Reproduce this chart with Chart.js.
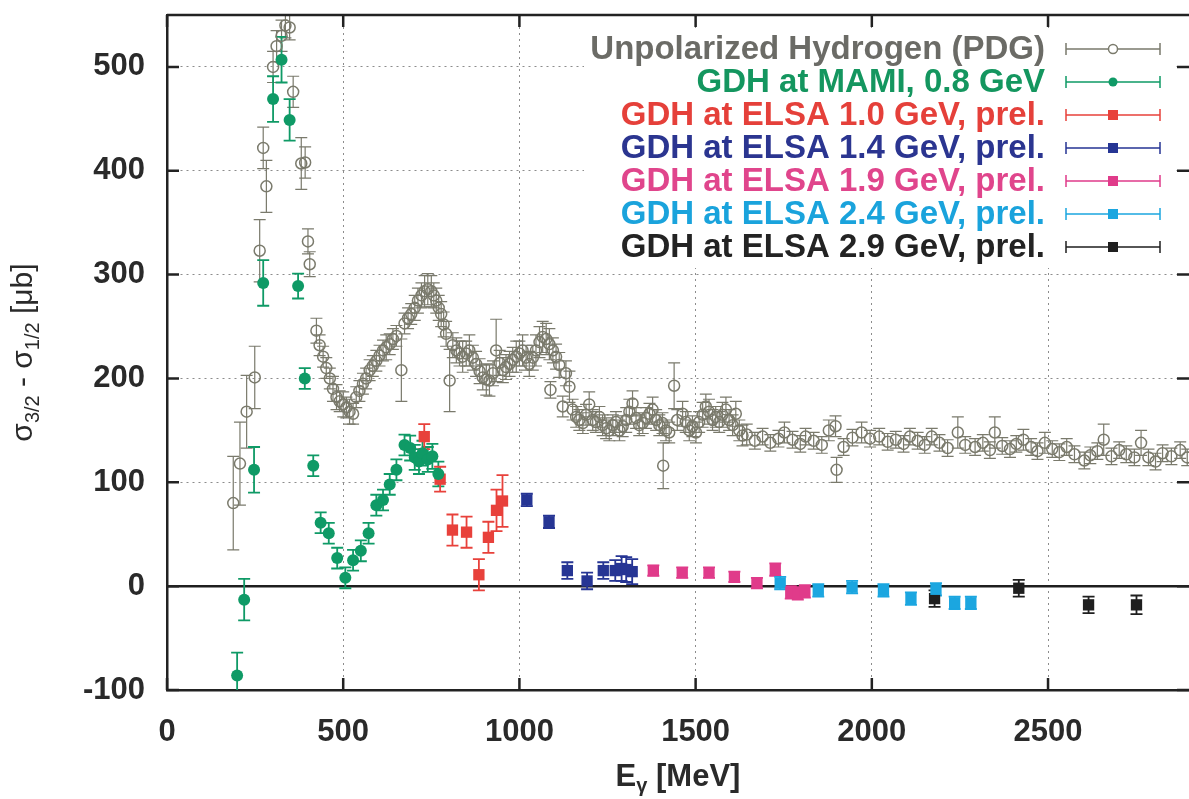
<!DOCTYPE html>
<html>
<head>
<meta charset="utf-8">
<script src="https://cdn.jsdelivr.net/npm/chart.js@4"></script>
<style>
  body { margin: 0; background: #fff; }
  canvas { display: block; }
</style>
</head>
<body>
<canvas id="gdhChart" width="1189" height="799"></canvas>
<script>
const xTickValues = [0, 500, 1000, 1500, 2000, 2500];
const yTickValues = [-100, 0, 100, 200, 300, 400, 500];

const seriesNames = [
  'Unpolarized Hydrogen (PDG)',
  'GDH at MAMI, 0.8 GeV',
  'GDH at ELSA 1.0 GeV, prel.',
  'GDH at ELSA 1.4 GeV, prel.',
  'GDH at ELSA 1.9 GeV, prel.',
  'GDH at ELSA 2.4 GeV, prel.',
  'GDH at ELSA 2.9 GeV, prel.'
];

// total photoabsorption, PDG compilation
const pdgEnergy = [
  188, 207, 226, 249, 263, 273, 282, 301, 311, 325,
  336, 348, 358, 381, 392, 400, 405, 424, 433, 443,
  452, 462, 471, 481, 490, 500, 509, 518, 528, 537,
  546, 556, 565, 575, 584, 594, 603, 613, 622, 632,
  641, 651, 665, 674, 684, 693, 703, 712, 722, 731,
  740, 750, 757, 764, 771, 778, 785, 792, 802, 811,
  821, 830, 839, 849, 858, 868, 877, 887, 896, 906,
  915, 925, 934, 944, 953, 962, 972, 981, 991, 1000,
  1009, 1019, 1028, 1038, 1047, 1057, 1066, 1076, 1085, 1095,
  1104, 1113, 1132, 1088, 1123, 1142, 1151, 1161, 1170, 1180,
  1189, 1198, 1208, 1217, 1227, 1236, 1246, 1255, 1265, 1274,
  1284, 1293, 1303, 1312, 1321, 1331, 1340, 1350, 1359, 1369,
  1378, 1388, 1397, 1406, 1408, 1416, 1425, 1439, 1448, 1463,
  1472, 1482, 1491, 1501, 1510, 1520, 1529, 1538, 1548, 1557,
  1567, 1576, 1586, 1595, 1605, 1614, 1624, 1633, 1645, 1668,
  1690, 1712, 1735, 1752, 1775, 1797, 1812, 1835, 1858, 1878,
  1897, 1900, 1920, 1945, 1971, 1995, 2021, 2045, 2068, 2090,
  2108, 2130, 2150, 2170, 2192, 2215, 2244, 2265, 2293, 2315,
  2335, 2349, 2370, 2392, 2410, 2430, 2452, 2470, 2491, 2512,
  2532, 2553, 2575, 2603, 2620, 2640, 2658, 2680, 2702, 2722,
  2745, 2764, 2785, 2805, 2825, 2850, 2875, 2895
];
const pdgSigma = [
  80, 118, 168, 201, 323, 422, 385, 500, 520, 530,
  540, 538, 476, 407, 408, 332, 310, 246, 232, 221,
  210, 200, 190, 182, 178, 175, 172, 168, 166, 182,
  188, 195, 200, 208, 212, 217, 222, 227, 230, 233,
  238, 241, 208, 253, 258, 262, 268, 275, 280, 284,
  286, 284, 280, 275, 268, 262, 252, 243, 198, 232,
  227, 224, 221, 224, 227, 220, 214, 207, 201, 199,
  198, 205, 227, 215, 208, 211, 214, 218, 221, 224,
  227, 220, 214, 220, 227, 235, 240, 238, 233, 227,
  221, 213, 205, 189, 173, 192, 170, 163, 160, 157,
  165, 175, 160, 158, 163, 155, 152, 150, 155, 158,
  150, 154, 160, 168, 176, 162, 155, 157, 162, 166,
  170, 160, 155, 157, 116, 150, 148, 193, 160, 166,
  158, 150, 154, 148, 158, 165, 173, 168, 160, 163,
  158, 165, 170, 160, 155, 166, 150, 145, 146, 140,
  144, 138, 142, 148, 141, 137, 144, 140, 136, 150,
  154, 112, 134, 143, 148, 142, 144, 139, 141, 137,
  144, 140, 136, 144, 138, 133, 148, 136, 134, 138,
  131, 148, 135, 132, 137, 141, 134, 130, 138, 132,
  129, 134, 127, 121, 126, 130, 141, 125, 131, 127,
  124, 138, 124, 120, 128, 125, 131, 124
];
const pdgError = [
  45, 40, 35, 30, 30, 20, 25, 15, 15, 15,
  12, 12, 15, 25, 15, 12, 12, 12, 10, 10,
  10, 10, 12, 12, 10, 12, 10, 12, 10, 10,
  10, 10, 10, 10, 10, 10, 10, 10, 12, 10,
  10, 10, 30, 10, 10, 10, 12, 12, 12, 15,
  15, 15, 12, 12, 12, 12, 12, 12, 30, 12,
  12, 12, 15, 12, 15, 12, 12, 12, 12, 15,
  15, 12, 30, 12, 12, 12, 12, 12, 15, 12,
  15, 12, 12, 12, 15, 15, 15, 15, 15, 12,
  12, 12, 12, 8, 10, 15, 10, 10, 10, 10,
  10, 12, 10, 10, 10, 10, 10, 10, 10, 10,
  10, 10, 12, 12, 12, 10, 10, 10, 10, 10,
  12, 10, 10, 10, 22, 10, 10, 22, 10, 12,
  10, 10, 10, 10, 10, 12, 12, 12, 10, 10,
  10, 12, 12, 10, 10, 12, 10, 10, 10, 8,
  8, 8, 8, 10, 8, 8, 8, 8, 8, 10,
  10, 12, 8, 8, 10, 8, 8, 8, 8, 8,
  8, 8, 8, 8, 8, 8, 15, 8, 8, 8,
  8, 15, 8, 8, 8, 10, 8, 8, 10, 8,
  8, 8, 8, 8, 8, 8, 15, 8, 8, 8,
  8, 12, 8, 8, 8, 8, 8, 8
];

// helicity difference sigma(3/2) - sigma(1/2)
const mamiEnergy = [199, 219, 247, 273, 301, 325, 348, 372, 391, 415, 436, 459, 483, 506, 528,
  550, 572, 594, 613, 632, 651, 674, 690, 703, 715, 725, 740, 753, 770];
const mamiSigma = [-86, -13, 112, 292, 469, 507, 449, 289, 200, 116, 61, 51, 27, 8, 25,
  34, 51, 78, 83, 98, 112, 136, 133, 124, 120, 128, 122, 125, 108];
const mamiError = [22, 20, 22, 22, 22, 22, 20, 12, 10, 10, 10, 10, 10, 10, 10,
  10, 10, 10, 10, 10, 10, 10, 12, 12, 12, 12, 12, 12, 12];

const elsa10Energy = [730, 775, 810, 850, 885, 912, 935, 952];
const elsa10Sigma = [144, 103, 54, 52, 11, 47, 73, 82];
const elsa10Error = [12, 12, 15, 15, 15, 15, 20, 25];

const elsa14Energy = [1021, 1084, 1136, 1192, 1238, 1272, 1290, 1303, 1320];
const elsa14Sigma = [83, 62, 15, 5, 15, 15, 17, 16, 14];
const elsa14Error = [6, 6, 8, 8, 8, 10, 12, 12, 12];

const elsa19Energy = [1380, 1462, 1538, 1610, 1674, 1726, 1770, 1790, 1810];
const elsa19Sigma = [15, 13, 13, 9, 3, 16, -6, -7, -5];
const elsa19Error = [5, 5, 5, 5, 5, 6, 6, 6, 6];

const elsa24Energy = [1740, 1848, 1944, 2033, 2111, 2182, 2235, 2281];
const elsa24Sigma = [3, -4, -1, -4, -12, -3, -16, -16];
const elsa24Error = [6, 6, 6, 6, 6, 6, 6, 6];

const elsa29Energy = [2178, 2417, 2615, 2751];
const elsa29Sigma = [-12, -2, -18, -18];
const elsa29Error = [8, 8, 8, 9];

const FONT = '"Liberation Sans", Arial, Helvetica, sans-serif';

function toPoints(energy, sigma) {
  return energy.map((e, i) => ({ x: e, y: sigma[i] }));
}

function makeSet(i, energy, sigma, error, color, textColor, style, radius, filled) {
  return {
    label: seriesNames[i],
    data: toPoints(energy, sigma),
    errors: error,
    textColor: textColor,
    pointStyle: style,
    pointRadius: radius,
    pointHoverRadius: radius,
    borderColor: color,
    backgroundColor: filled ? color : 'rgba(0,0,0,0)',
    borderWidth: filled ? 0 : 1.5,
    order: i === 0 ? 5 : 0
  };
}

const datasets = [
  makeSet(0, pdgEnergy, pdgSigma, pdgError, '#7a7a6c', '#6b6b66', 'circle', 5.5, false),
  makeSet(1, mamiEnergy, mamiSigma, mamiError, '#0f9a66', '#14965f', 'circle', 6, true),
  makeSet(2, elsa10Energy, elsa10Sigma, elsa10Error, '#e8413b', '#e5403a', 'rect', 8, true),
  makeSet(3, elsa14Energy, elsa14Sigma, elsa14Error, '#263594', '#2b3590', 'rect', 8, true),
  makeSet(4, elsa19Energy, elsa19Sigma, elsa19Error, '#e03b8a', '#e0458c', 'rect', 8, true),
  makeSet(5, elsa24Energy, elsa24Sigma, elsa24Error, '#1ba6e0', '#1aa3dc', 'rect', 8, true),
  makeSet(6, elsa29Energy, elsa29Sigma, elsa29Error, '#1f1f1f', '#232323', 'rect', 8, true)
];

// vertical error bars with caps, plus the sigma = 0 line
const errorBars = {
  id: 'errorBars',
  beforeDatasetsDraw(chart) {
    const ctx = chart.ctx;
    const area = chart.chartArea;
    const xs = chart.scales.x;
    const ys = chart.scales.y;
    ctx.save();
    ctx.beginPath();
    ctx.rect(area.left, area.top, area.right - area.left, area.bottom - area.top);
    ctx.clip();

    const y0 = ys.getPixelForValue(0);
    ctx.strokeStyle = '#1e1e1e';
    ctx.lineWidth = 2.5;
    ctx.beginPath();
    ctx.moveTo(area.left, y0);
    ctx.lineTo(area.right, y0);
    ctx.stroke();

    chart.data.datasets.forEach(ds => {
      ctx.strokeStyle = ds.borderColor;
      ctx.lineWidth = ds.order ? 1.2 : 1.8;
      const cap = 6;
      ds.data.forEach((p, i) => {
        const x = xs.getPixelForValue(p.x);
        const top = ys.getPixelForValue(p.y + ds.errors[i]);
        const bottom = ys.getPixelForValue(p.y - ds.errors[i]);
        ctx.beginPath();
        ctx.moveTo(x, top);
        ctx.lineTo(x, bottom);
        ctx.moveTo(x - cap, top);
        ctx.lineTo(x + cap, top);
        ctx.moveTo(x - cap, bottom);
        ctx.lineTo(x + cap, bottom);
        ctx.stroke();
      });
    });
    ctx.restore();
  }
};

// top border and the inward tick marks
const frame = {
  id: 'frame',
  afterDatasetsDraw(chart) {
    const ctx = chart.ctx;
    const area = chart.chartArea;
    const xs = chart.scales.x;
    const ys = chart.scales.y;
    ctx.save();
    ctx.strokeStyle = '#222';
    ctx.lineWidth = 2.5;
    ctx.beginPath();
    ctx.moveTo(area.left, area.top);
    ctx.lineTo(area.right, area.top);
    ctx.stroke();
    xTickValues.forEach(v => {
      const x = xs.getPixelForValue(v);
      ctx.beginPath();
      ctx.moveTo(x, area.bottom);
      ctx.lineTo(x, area.bottom - 12);
      ctx.moveTo(x, area.top);
      ctx.lineTo(x, area.top + 12);
      ctx.stroke();
    });
    yTickValues.forEach(v => {
      const y = ys.getPixelForValue(v);
      ctx.beginPath();
      ctx.moveTo(area.left, y);
      ctx.lineTo(area.left + 12, y);
      ctx.moveTo(area.right, y);
      ctx.lineTo(area.right - 12, y);
      ctx.stroke();
    });
    ctx.restore();
  }
};

// key box in the upper right: label right aligned, symbol with error bar
const keyBox = {
  id: 'keyBox',
  afterDraw(chart) {
    const ctx = chart.ctx;
    const textRight = 1045;
    const barLeft = 1066, barRight = 1160, mark = 1113;
    const rowTop = 49, rowStep = 33;
    ctx.save();
    ctx.fillStyle = '#fff';
    ctx.fillRect(584, 28, 590, 240);
    ctx.font = 'bold 33px ' + FONT;
    ctx.textAlign = 'right';
    ctx.textBaseline = 'middle';
    chart.data.datasets.forEach((ds, i) => {
      const y = rowTop + i * rowStep;
      ctx.fillStyle = ds.textColor;
      ctx.fillText(ds.label, textRight, y + 1);

      ctx.strokeStyle = ds.borderColor;
      ctx.lineWidth = 1.5;
      ctx.beginPath();
      ctx.moveTo(barLeft, y);
      ctx.lineTo(barRight, y);
      ctx.moveTo(barLeft, y - 6);
      ctx.lineTo(barLeft, y + 6);
      ctx.moveTo(barRight, y - 6);
      ctx.lineTo(barRight, y + 6);
      ctx.stroke();

      if (ds.pointStyle === 'rect') {
        ctx.fillStyle = ds.borderColor;
        ctx.fillRect(mark - 5, y - 5, 10, 10);
      } else {
        ctx.beginPath();
        ctx.arc(mark, y, 4.5, 0, Math.PI * 2);
        if (ds.order) {
          ctx.fillStyle = '#fff';
          ctx.fill();
          ctx.stroke();
        } else {
          ctx.fillStyle = ds.borderColor;
          ctx.fill();
        }
      }
    });
    ctx.restore();
  }
};

// axis titles with subscripts
function drawRun(ctx, parts, x, y) {
  parts.forEach(part => {
    ctx.font = part[1];
    ctx.fillText(part[0], x, y + part[2]);
    x += ctx.measureText(part[0]).width;
  });
}

function runWidth(ctx, parts) {
  let w = 0;
  parts.forEach(part => {
    ctx.font = part[1];
    w += ctx.measureText(part[0]).width;
  });
  return w;
}

const axisTitles = {
  id: 'axisTitles',
  afterDraw(chart) {
    const ctx = chart.ctx;
    const area = chart.chartArea;
    ctx.save();
    ctx.fillStyle = '#2a2a2a';
    ctx.textAlign = 'left';
    ctx.textBaseline = 'alphabetic';

    const big = 'bold 31px ' + FONT;
    const small = 'bold 20px ' + FONT;
    const xParts = [['E', big, 0], ['γ', small, 6], [' [MeV]', big, 0]];
    const cx = (area.left + area.right) / 2;
    drawRun(ctx, xParts, cx - runWidth(ctx, xParts) / 2, 786);

    const main = '30px ' + FONT;
    const sub = '20px ' + FONT;
    const yParts = [['σ', main, 0], ['3/2', sub, 7], [' - ', main, 0], ['σ', main, 0], ['1/2', sub, 7], [' [μb]', main, 0]];
    const cy = (area.top + area.bottom) / 2;
    ctx.translate(32, cy);
    ctx.rotate(-Math.PI / 2);
    drawRun(ctx, yParts, -runWidth(ctx, yParts) / 2, 0);
    ctx.restore();
  }
};

const ctx = document.getElementById('gdhChart').getContext('2d');
new Chart(ctx, {
  type: 'scatter',
  data: { datasets: datasets },
  options: {
    responsive: false,
    animation: false,
    devicePixelRatio: 1,
    events: [],
    layout: { autoPadding: false, padding: { top: 15, right: 0, left: 0, bottom: 0 } },
    plugins: {
      legend: { display: false },
      tooltip: { enabled: false }
    },
    scales: {
      x: {
        type: 'linear',
        min: 0,
        max: 2900,
        afterBuildTicks(scale) { scale.ticks = xTickValues.map(v => ({ value: v })); },
        afterFit(scale) {
          scale.height = 109;
          scale.paddingLeft = 0;
          scale.paddingRight = 0;
        },
        ticks: {
          color: '#2a2a2a',
          font: { family: FONT, size: 31, weight: 'bold' },
          padding: 24,
          maxRotation: 0,
          autoSkip: false,
          callback: v => String(v)
        },
        grid: { color: '#8c8c8c', lineWidth: 1, drawTicks: false },
        border: { display: true, color: '#222', width: 2.5, dash: [2, 4] }
      },
      y: {
        type: 'linear',
        min: -100,
        max: 550,
        afterBuildTicks(scale) { scale.ticks = yTickValues.map(v => ({ value: v })); },
        afterFit(scale) {
          scale.width = 167;
          scale.paddingTop = 0;
          scale.paddingBottom = 0;
        },
        ticks: {
          color: '#2a2a2a',
          font: { family: FONT, size: 31, weight: 'bold' },
          padding: 22,
          autoSkip: false,
          callback: v => String(v)
        },
        grid: { color: '#8c8c8c', lineWidth: 1, drawTicks: false },
        border: { display: true, color: '#222', width: 2.5, dash: [2, 4] }
      }
    }
  },
  plugins: [errorBars, frame, keyBox, axisTitles]
});
</script>
</body>
</html>
